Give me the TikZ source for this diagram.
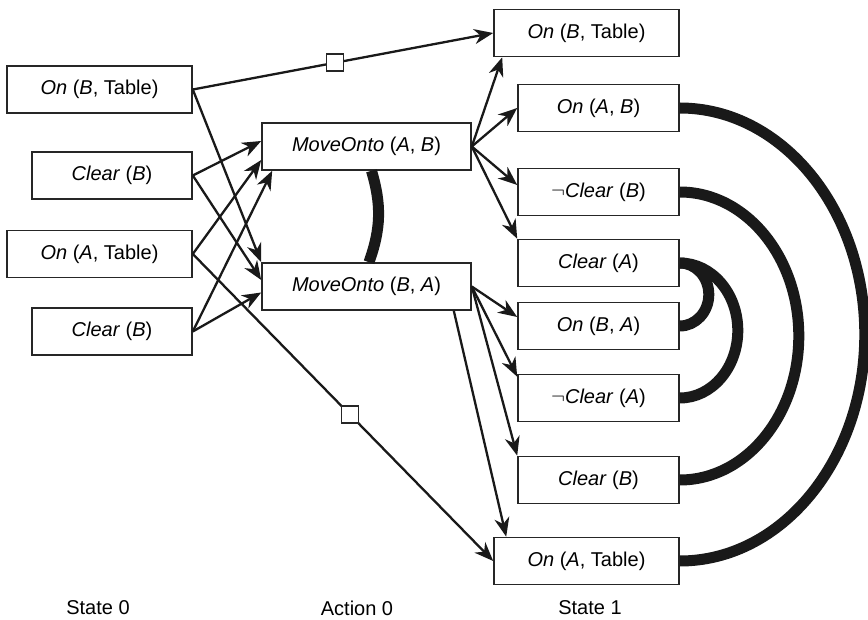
\documentclass[tikz,border=0pt]{standalone}
\usepackage{fontspec}
\setmainfont{Liberation Sans}
\usetikzlibrary{arrows.meta}
\begin{document}
\begin{tikzpicture}[x=1pt,y=-1pt,
  box/.style={draw=black!85, line width=1.6pt, fill=white, inner sep=0pt, minimum height=47pt, font=\fontsize{20}{24}\selectfont},
  wbox/.style={box, minimum width=185pt},
  abox/.style={box, minimum width=209pt},
  nbox/.style={box, minimum width=160pt},
  rbox/.style={box, minimum width=161pt},
  link/.style={line width=2.3pt, draw=black!90, -{Stealth[length=19pt,width=15pt,inset=6pt]}},
  noop/.style={draw=black!85, line width=1.6pt, fill=white, minimum size=17pt, inner sep=0pt},
  mutex/.style={line width=11pt, draw=black!90},
  caption/.style={font=\fontsize{20}{24}\selectfont}
]
\useasboundingbox (0,0) rectangle (868,620);

% State 0
\node[wbox] (s0a) at (99.5,89.5) {\textit{On} (\textit{B}, Table)};
\node[nbox] (s0b) at (112,175.5) {\textit{Clear} (\textit{B})};
\node[wbox] (s0c) at (99.5,254) {\textit{On} (\textit{A}, Table)};
\node[nbox] (s0d) at (112,331.5) {\textit{Clear} (\textit{B})};

% Actions
\node[abox] (a1) at (366.5,146.5) {\textit{MoveOnto} (\textit{A}, \textit{B})};
\node[abox] (a2) at (366.5,286.5) {\textit{MoveOnto} (\textit{B}, \textit{A})};

% State 1
\node[wbox] (t1) at (586.5,33) {\textit{On} (\textit{B}, Table)};
\node[rbox] (t2) at (598.5,108) {\textit{On} (\textit{A}, \textit{B})};
\node[rbox] (t3) at (598.5,192) {$\neg$\textit{Clear} (\textit{B})};
\node[rbox] (t4) at (598.5,263) {\textit{Clear} (\textit{A})};
\node[rbox] (t5) at (598.5,326) {\textit{On} (\textit{B}, \textit{A})};
\node[rbox] (t6) at (598.5,398) {$\neg$\textit{Clear} (\textit{A})};
\node[rbox] (t7) at (598.5,480) {\textit{Clear} (\textit{B})};
\node[wbox] (t8) at (586.5,561) {\textit{On} (\textit{A}, Table)};

% captions
\node[caption] (c0) at (98,608) {State 0};
\node[caption] (c1) at (357,608) {Action 0};
\node[caption] (c2) at (590,608) {State 1};

% persistence (no-op) links
\draw[link] (s0a.east) -- (t1.west) node[noop, pos=0.474] (n1) {};
\draw[link] (s0c.east) -- (t8.west) node[noop, pos=0.523] (n2) {};

% preconditions
\draw[link] (s0a.east) -- (a2.north west);
\draw[link] (s0b.east) -- ([yshift=5.5pt]a1.west);
\draw[link] (s0b.east) -- ([yshift=6.5pt]a2.west);
\draw[link] (s0c.east) -- ([yshift=-13.5pt]a1.west);
\draw[link] (s0d.east) -- ([xshift=11pt]a1.south west);
\draw[link] (s0d.east) -- ([yshift=-6pt]a2.west);

% effects of MoveOnto(A,B)
\draw[link] (a1.east) -- ([xshift=9pt]t1.south west);
\draw[link] (a1.east) -- (t2.west);
\draw[link] (a1.east) -- ([yshift=7pt]t3.west);
\draw[link] (a1.east) -- (t4.north west);

% effects of MoveOnto(B,A)
\draw[link] (a2.east) -- ([yshift=9pt]t5.west);
\draw[link] (a2.east) -- ([yshift=-3pt]t6.north west);
\draw[link] (a2.east) -- (t7.north west);
\draw[link] ([xshift=-18pt]a2.south east) -- ([xshift=13pt]t8.north west);

% mutex links
\draw[mutex] ([xshift=5pt]a1.south) to[bend left=18] ([xshift=2.5pt]a2.north);
\draw[mutex] (t4.east) arc[start angle=-90, end angle=90, x radius=29, y radius=31.5];
\draw[mutex] (t4.east) arc[start angle=-90, end angle=90, x radius=58, y radius=67.5];
\draw[mutex] (t3.east) arc[start angle=-90, end angle=90, x radius=119, y radius=144];
\draw[mutex] (t2.east) arc[start angle=-90, end angle=90, x radius=185, y radius=226.5];
\end{tikzpicture}
\end{document}
